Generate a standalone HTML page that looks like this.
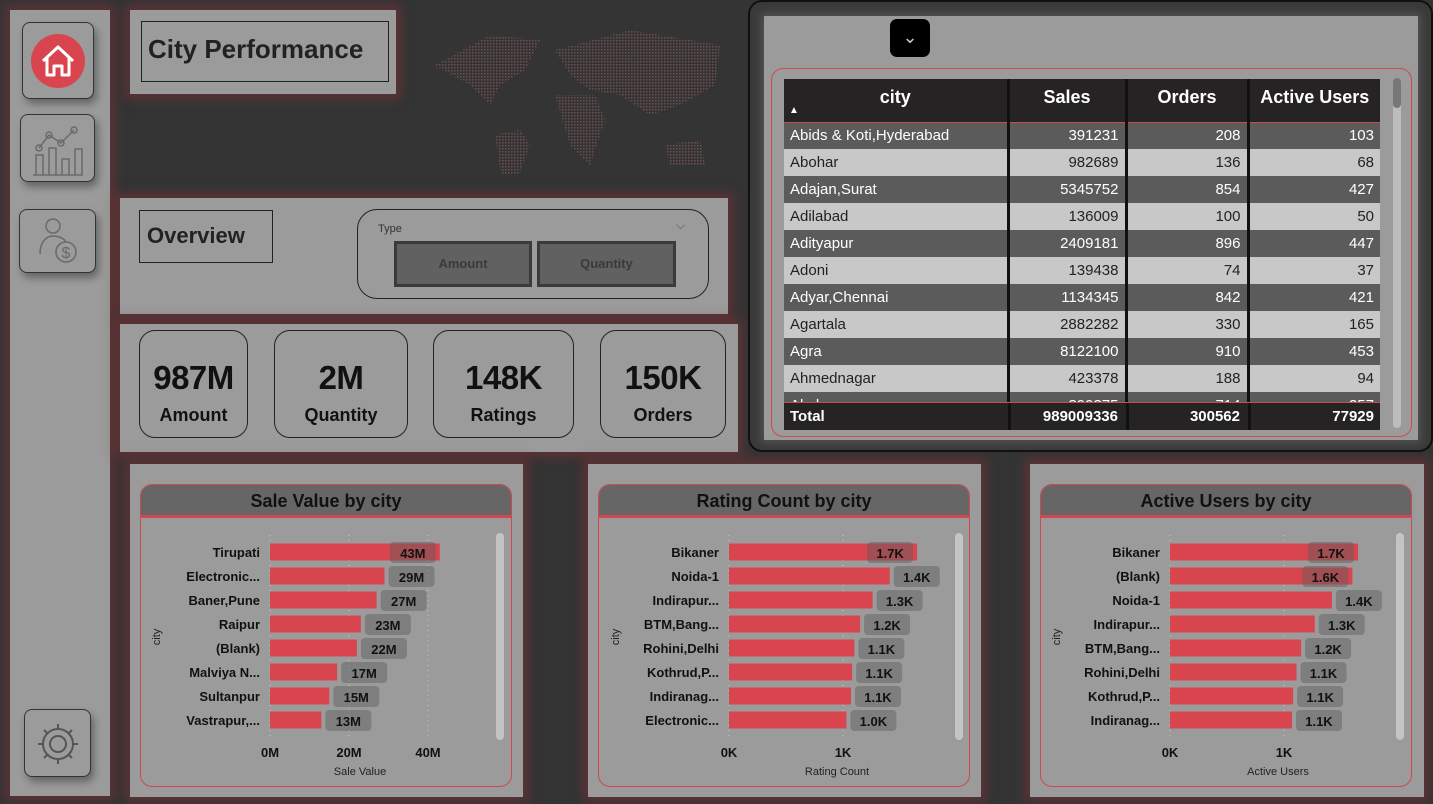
<!DOCTYPE html>
<html><head><meta charset="utf-8"><style>
*{box-sizing:border-box;margin:0;padding:0}
body{width:1433px;height:804px;background:#343434;font-family:"Liberation Sans",sans-serif;position:relative;overflow:hidden}
.abs{position:absolute}
.panel{position:absolute;background:#9b9b9b;box-shadow:0 0 10px 5px rgba(120,50,55,.6)}
.btn{position:absolute;border:1.5px solid #333;border-radius:8px;background:#9b9b9b;box-shadow:3px 5px 8px rgba(0,0,0,.35)}
.kpi{position:absolute;border:1.5px solid #222;border-radius:16px;text-align:center;color:#111}
.kpi .v{font-size:33px;font-weight:bold;margin-top:28px;letter-spacing:-.5px}
.kpi .l{font-size:18px;font-weight:bold;margin-top:8px}
.card{position:absolute;border:1.5px solid #d04850;border-radius:12px;background:#9b9b9b;overflow:hidden}
.card .h{height:33px;background:#666;border-bottom:3px solid #d04850;text-align:center;font-size:18px;font-weight:bold;line-height:32px;color:#111}
table{border-collapse:collapse;font-size:15px}
td,th{height:27px;padding:0 6px;border-left:3px solid #111}
</style></head><body>
<div class="panel" style="left:10px;top:10px;width:100px;height:786px"></div>
<div class="btn" style="left:22px;top:22px;width:72px;height:77px">
<svg width="70" height="75" viewBox="0 0 70 75"><circle cx="35" cy="38" r="27" fill="#d9454f"/><path d="M20 38 L35 24 L50 38 M24 35 V52 H31 V43 H39 V52 H46 V35" fill="none" stroke="#fff" stroke-width="3" stroke-linejoin="round"/></svg></div>
<div class="btn" style="left:20px;top:114px;width:75px;height:68px">
<svg width="72" height="66" viewBox="0 0 72 66"><g fill="none" stroke="#6a6a6a" stroke-width="1.5"><path d="M12 60H62M15 60V40H22V60M28 60V33H35V60M41 60V44H48V60M54 60V34H61V60M18 33L28 20L40 28L53 15"/><circle cx="18" cy="33" r="3"/><circle cx="28" cy="20" r="3"/><circle cx="40" cy="28" r="3"/><circle cx="53" cy="15" r="3"/></g></svg></div>
<div class="btn" style="left:19px;top:209px;width:77px;height:64px">
<svg width="75" height="62" viewBox="0 0 75 62"><g fill="none" stroke="#6a6a6a" stroke-width="1.5"><circle cx="33" cy="16" r="7"/><path d="M20 44C20 30 28 26 33 26S44 28 46 32"/><circle cx="46" cy="42" r="10"/></g><text x="46" y="48" font-size="16" text-anchor="middle" fill="#6a6a6a">$</text></svg></div>
<div class="btn" style="left:24px;top:709px;width:67px;height:68px">
<svg width="65" height="66" viewBox="0 0 65 66"><g fill="none" stroke="#555" stroke-width="2"><circle cx="33" cy="34" r="8"/><path d="M33 14v6M33 48v6M13 34h6M47 34h6M19 20l4 4M43 44l4 4M19 48l4-4M43 24l4-4"/><circle cx="33" cy="34" r="15"/></g></svg></div>

<div class="panel" style="left:130px;top:10px;width:266px;height:84px"></div>
<div class="abs" style="left:141px;top:21px;width:248px;height:61px;border:1.5px solid #222;font-size:26px;font-weight:bold;color:#222;padding:12px 0 0 6px">City Performance</div>
<svg class="abs" style="left:430px;top:25px" width="300" height="150"><defs><pattern id="d" width="3" height="3" patternUnits="userSpaceOnUse"><rect width="1.5" height="1.5" fill="#8a5a5e"/></pattern></defs><g fill="url(#d)" opacity=".7"><path d="M5 40 L60 10 L110 15 L95 45 L70 60 L60 80 L40 60 Z"/><path d="M65 110 L90 105 L100 120 L85 160 L72 155 Z"/><path d="M125 25 L200 5 L290 20 L285 60 L250 80 L220 90 L190 70 L160 65 L140 50 Z"/><path d="M125 70 L165 70 L175 95 L160 140 L140 120 Z"/><path d="M235 120 L270 115 L275 140 L240 140 Z"/></g></svg>

<div class="panel" style="left:120px;top:198px;width:608px;height:116px"></div>
<div class="abs" style="left:139px;top:210px;width:134px;height:53px;border:1.5px solid #222;font-size:22px;font-weight:bold;color:#222;padding:12px 0 0 7px">Overview</div>
<div class="abs" style="left:357px;top:209px;width:352px;height:90px;border:1.5px solid #222;border-radius:20px">
<div class="abs" style="left:20px;top:13px;font-size:11px;color:#333">Type</div>
<div class="abs" style="left:318px;top:8px;font-size:12px;color:#555">⌵</div></div>
<div class="abs" style="left:394px;top:241px;width:138px;height:46px;background:#616161;border:3px solid #3a3a3a;text-align:center;line-height:40px;font-size:13px;font-weight:bold;color:#3a3a3a">Amount</div>
<div class="abs" style="left:537px;top:241px;width:139px;height:46px;background:#616161;border:3px solid #3a3a3a;text-align:center;line-height:40px;font-size:13px;font-weight:bold;color:#3a3a3a">Quantity</div>

<div class="panel" style="left:120px;top:324px;width:618px;height:128px"></div>
<div class="kpi" style="left:139px;top:330px;width:109px;height:108px"><div class="v">987M</div><div class="l">Amount</div></div>
<div class="kpi" style="left:274px;top:330px;width:134px;height:108px"><div class="v">2M</div><div class="l">Quantity</div></div>
<div class="kpi" style="left:433px;top:330px;width:141px;height:108px"><div class="v">148K</div><div class="l">Ratings</div></div>
<div class="kpi" style="left:600px;top:330px;width:126px;height:108px"><div class="v">150K</div><div class="l">Orders</div></div>

<div class="abs" style="left:748px;top:0;width:685px;height:452px;border:2px solid #111;border-radius:14px;background:#3a3a3a"></div>
<div class="panel" style="left:764px;top:16px;width:654px;height:424px;box-shadow:0 0 8px 3px rgba(90,90,90,.8)"></div>
<div class="abs" style="left:890px;top:19px;width:40px;height:38px;background:#000;border-radius:7px;color:#ccc;text-align:center;font-size:18px;line-height:36px">⌄</div>
<div class="abs" style="left:771px;top:68px;width:641px;height:369px;border:1.5px solid #d04850;border-radius:12px"></div>
<div class="abs" style="left:784px;top:79px;width:596px;height:351px;overflow:hidden">
<table style="width:596px">
<colgroup><col style="width:224px"><col style="width:118px"><col style="width:122px"><col style="width:132px"></colgroup>
<tr style="background:#252323;color:#fff;height:43px;border-bottom:1px solid #d04850"><th style="border-left:none;font-size:18px;height:43px;position:relative;vertical-align:top;padding-top:8px">city<span style="position:absolute;left:5px;top:26px;font-size:10px">▲</span></th><th style="font-size:18px;vertical-align:top;padding-top:8px">Sales</th><th style="font-size:18px;vertical-align:top;padding-top:8px">Orders</th><th style="font-size:18px;vertical-align:top;padding-top:8px">Active Users</th></tr>
<tbody id="tb"></tbody>
</table>
<div class="abs" style="left:0;top:323px;width:596px;height:28px;background:#252323;border-top:1px solid #d04850;color:#fff;font-weight:bold;font-size:15px">
<span class="abs" style="left:6px;top:5px">Total</span><span class="abs" style="right:262px;top:5px">989009336</span><span class="abs" style="right:140px;top:5px">300562</span><span class="abs" style="right:6px;top:5px">77929</span>
<span class="abs" style="left:224px;top:0;width:3px;height:28px;background:#111"></span><span class="abs" style="left:342px;top:0;width:3px;height:28px;background:#111"></span><span class="abs" style="left:464px;top:0;width:3px;height:28px;background:#111"></span></div>
</div>
<div class="abs" style="left:1393px;top:78px;width:8px;height:350px;background:#bdbdbd;border-radius:4px"><div style="height:30px;background:#777;border-radius:4px"></div></div>

<div class="panel" style="left:130px;top:464px;width:393px;height:333px"></div>
<div class="panel" style="left:588px;top:464px;width:393px;height:333px"></div>
<div class="panel" style="left:1030px;top:464px;width:394px;height:333px"></div>
<div class="card" style="left:140px;top:484px;width:372px;height:303px"><div class="h">Sale Value by city</div></div>
<div class="card" style="left:598px;top:484px;width:372px;height:303px"><div class="h">Rating Count by city</div></div>
<div class="card" style="left:1040px;top:484px;width:372px;height:303px"><div class="h">Active Users by city</div></div>
<svg id="ch" class="abs" style="left:0;top:0" width="1433" height="804"></svg>

<script>
const tCity=["Abids & Koti,Hyderabad","Abohar","Adajan,Surat","Adilabad","Adityapur","Adoni","Adyar,Chennai","Agartala","Agra","Ahmednagar","Akola"];
const tSales=[391231,982689,5345752,136009,2409181,139438,1134345,2882282,8122100,423378,399375];
const tOrders=[208,136,854,100,896,74,842,330,910,188,714];
const tUsers=[103,68,427,50,447,37,421,165,453,94,357];

const c1Cats=["Tirupati","Electronic...","Baner,Pune","Raipur","(Blank)","Malviya N...","Sultanpur","Vastrapur,..."];
const c1Vals=[43,29,27,23,22,17,15,13];
const c1Ticks=[0,20,40];
const c2Cats=["Bikaner","Noida-1","Indirapur...","BTM,Bang...","Rohini,Delhi","Kothrud,P...","Indiranag...","Electronic..."];
const c2Vals=[1.65,1.41,1.26,1.15,1.1,1.08,1.07,1.03];
const c2Labels=["1.7K","1.4K","1.3K","1.2K","1.1K","1.1K","1.1K","1.0K"];
const c2Ticks=[0,1];
const c3Cats=["Bikaner","(Blank)","Noida-1","Indirapur...","BTM,Bang...","Rohini,Delhi","Kothrud,P...","Indiranag..."];
const c3Vals=[1.65,1.6,1.42,1.27,1.15,1.11,1.08,1.07];
const c3Labels=["1.7K","1.6K","1.4K","1.3K","1.2K","1.1K","1.1K","1.1K"];
const c3Ticks=[0,1];

const tb=document.getElementById('tb');
tCity.forEach((c,i)=>{
  const tr=document.createElement('tr');
  
  
  const dark=i%2==0;
  tr.style.background=dark?'#5c5b5b':'#c8c8c8';tr.style.color=dark?'#fff':'#222';
  tr.innerHTML=`<td style="border-left:none">${c}</td><td style="text-align:right">${tSales[i]}</td><td style="text-align:right">${tOrders[i]}</td><td style="text-align:right">${tUsers[i]}</td>`;
  tb.appendChild(tr);
});

const svg=document.getElementById('ch');
const NS='http://www.w3.org/2000/svg';
function mk(t,a,txt){const e=document.createElementNS(NS,t);for(const k in a)e.setAttribute(k,a[k]);if(txt!=null)e.textContent=txt;svg.appendChild(e);return e;}
function chart(x0,pxPer,cats,vals,labels,ticks,tickFmt,xTitle,name,titleX){
  const xs=v=>x0+v*pxPer, ys=i=>552+i*24;
  const limit=x0+216;
  ticks.forEach(t=>{
    const g=mk('line',{x1:xs(t),x2:xs(t),y1:535,y2:738,stroke:'#c8c8c8','stroke-dasharray':'1 4'});
    
    const l=mk('text',{x:xs(t),y:757,'text-anchor':'middle','font-size':13,'font-weight':'bold',fill:'#111'},tickFmt(t));
    
  });
  const at=mk('text',{x:titleX,y:775,'text-anchor':'middle','font-size':11,fill:'#222'},xTitle);
  
  const yt=mk('text',{x:0,y:0,transform:`translate(${x0-110},637) rotate(-90)`,'text-anchor':'middle','font-size':11,fill:'#222'},'city');
  
  cats.forEach((c,i)=>{
    const y=ys(i);
    const lb=mk('text',{x:x0-10,y:y+5,'text-anchor':'end','font-size':13,'font-weight':'bold',fill:'#111'},c);
    
    const end=xs(vals[i]);
    const b=mk('rect',{x:x0,y:y-8.5,width:end-x0,height:17,fill:'#d9454f'});
    
    const bx=(end+50>limit)?end-50:end+4;
    const box=mk('rect',{x:bx,y:y-10,width:46,height:21,rx:4,fill:'rgba(90,90,90,.45)'});
    
    const v=mk('text',{x:bx+23,y:y+6,'text-anchor':'middle','font-size':13,'font-weight':'bold',fill:'#111'},labels[i]);
    
  });
  const sb=mk('rect',{x:x0+226,y:533,width:8,height:207,rx:4,fill:'#c4c4c4'});
  
}
chart(270,3.95,c1Cats,c1Vals,c1Vals.map(v=>v+'M'),c1Ticks,t=>t+'M','Sale Value','sale',360);
chart(729,114,c2Cats,c2Vals,c2Labels,c2Ticks,t=>t+'K','Rating Count','rating',837);
chart(1170,114,c3Cats,c3Vals,c3Labels,c3Ticks,t=>t+'K','Active Users','users',1278);
</script>
</body></html>
